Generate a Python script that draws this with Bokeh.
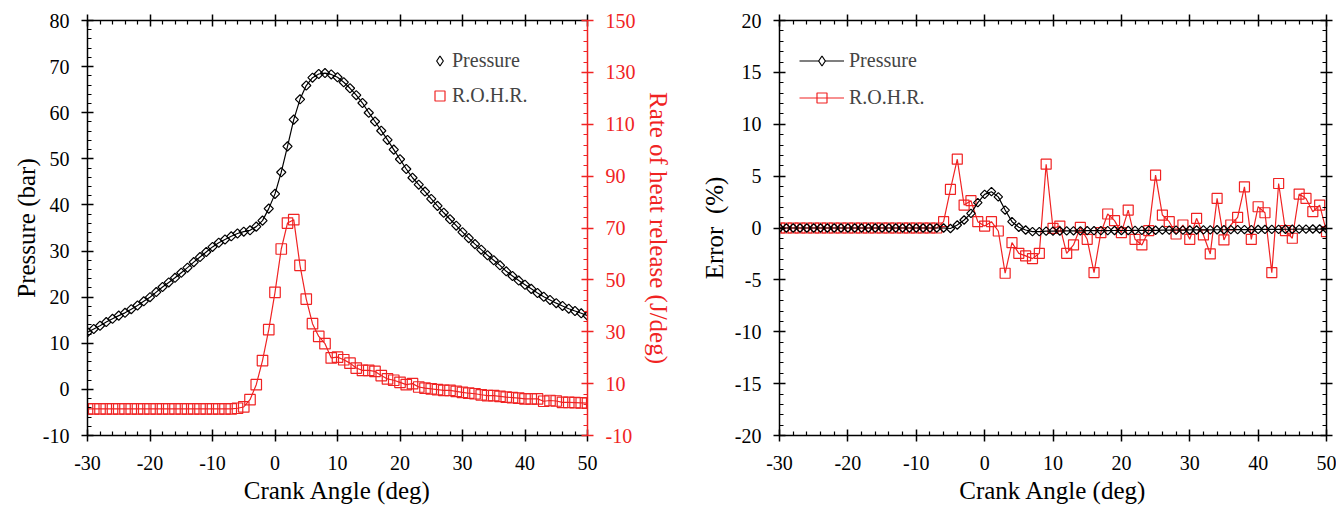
import math
from bokeh.plotting import figure
from bokeh.models import (Range1d, LinearAxis, FixedTicker, Legend, LegendItem,
                          CustomJSTickFormatter)
from bokeh.layouts import row
from bokeh.embed import file_html
from bokeh.resources import INLINE

# ---------------- data ----------------
crank_angle = list(range(-30, 51))

pressure = [
    12.4, 13.1, 13.8, 14.6, 15.3, 16.0, 16.6, 17.4, 18.2, 19.1,   # -30..-21
    20.0, 21.1, 22.2, 23.2, 24.2, 25.3, 26.4, 27.6, 28.7, 29.8,   # -20..-11
    30.9, 31.8, 32.5, 33.2, 33.8, 34.2, 34.5, 35.3, 36.6, 39.2,   # -10..-1
    42.4,                                                         # 0
    47.1, 52.7, 58.5, 62.9, 65.9, 67.6, 68.4, 68.6, 68.3, 67.7,   # 1..10
    66.6, 65.3, 63.8, 62.1, 60.0, 58.1, 56.1, 54.1, 52.0, 49.9,   # 11..20
    47.8, 45.9, 44.4, 42.9, 41.3, 39.8, 38.3, 36.9, 35.5, 34.1,   # 21..30
    32.8, 31.5, 30.3, 29.1, 28.0, 26.9, 25.6, 24.6, 23.6, 22.7,   # 31..40
    21.8, 20.9, 20.1, 19.4, 18.7, 18.1, 17.5, 17.0, 16.5, 16.0,   # 41..50
]

rohr = [0.3] * 24 + [
    0.5, 1.0, 3.8, 9.6, 18.9, 30.8, 45.2,                         # -6..0
    61.9, 71.9, 73.2, 55.6, 42.6, 33.1, 28.2, 25.4, 19.9, 20.2,   # 1..10
    19.2, 17.9, 16.0, 15.1, 15.1, 14.7, 13.1, 11.8, 11.3, 10.5,   # 11..20
    9.6, 10.0, 8.7, 8.3, 8.0, 7.7, 7.4, 7.4, 7.0, 6.6,            # 21..30
    6.3, 6.1, 5.7, 5.4, 5.4, 5.1, 4.8, 4.6, 4.4, 4.1,             # 31..40
    4.1, 4.1, 3.2, 3.5, 3.3, 2.8, 2.8, 2.7, 2.6, 2.5,             # 41..50
]

err_pressure = [0.0] * 24 + [
    0.0, -0.05, 0.29, 0.77, 1.41, 2.44, 3.24,                     # -6..0
    3.5, 3.0, 1.73, 0.61, 0.07, -0.19, -0.35, -0.35, -0.3, -0.3,  # 1..10
    -0.29, -0.28, -0.27, -0.27, -0.26, -0.26, -0.25, -0.25, -0.24, -0.24,
    -0.24, -0.23, -0.23, -0.22, -0.22, -0.21, -0.21, -0.2, -0.2, -0.19,
    -0.19, -0.18, -0.18, -0.17, -0.17, -0.16, -0.16, -0.15, -0.15, -0.14,
    -0.14, -0.13, -0.13, -0.12, -0.12, -0.11, -0.11, -0.1, -0.1, -0.1,
]

err_rohr = [0.0] * 24 + [
    0.61, 3.72, 6.63, 2.21, 2.63, 0.61, 0.19,                     # -6..0
    0.61, -0.29, -4.36, -1.41, -2.44, -2.69, -2.95, -2.44, 6.15, -0.03,
    0.19, -2.44, -1.63, 0.06, -1.09, -4.3, -0.45, 1.35, 0.71, -0.45,
    1.73, -1.09, -1.63, -0.26, 5.1, 1.25, 0.61, -0.58, 0.29, -1.09,
    0.93, -0.67, -2.5, 2.85, -1.15, 0.29, 1.03, 3.97, -1.09, 2.05,
    1.47, -4.3, 4.29, -0.26, -0.99, 3.27, 2.85, 1.57, 2.21, -0.35,
]

x_ticks = [-30, -20, -10, 0, 10, 20, 30, 40, 50]
p_ticks = [-10, 0, 10, 20, 30, 40, 50, 60, 70, 80]
rohr_ticks = [-10, 10, 30, 50, 70, 90, 110, 130, 150]
err_ticks = [-20, -15, -10, -5, 0, 5, 10, 15, 20]

FONT = "Liberation Serif"
RED = "#f02323"


def minor_between(ticks, n):
    out = []
    for a, b in zip(ticks[:-1], ticks[1:]):
        step = (b - a) / n
        out += [a + step * k for k in range(1, n)]
    return out


def style_axis(ax, color="black", labels=True, label_standoff=12, title_standoff=5):
    ax.axis_line_color = color
    ax.axis_line_width = 1.5
    ax.major_tick_line_color = color
    ax.major_tick_line_width = 1.5
    ax.minor_tick_line_color = color
    ax.minor_tick_line_width = 1.2
    ax.major_tick_in = 6
    ax.major_tick_out = 6
    ax.minor_tick_in = 4
    ax.minor_tick_out = 0
    ax.major_label_text_font = FONT
    ax.major_label_text_font_size = "20px"
    ax.major_label_text_color = color
    ax.axis_label_text_font = FONT
    ax.axis_label_text_font_size = "25px"
    ax.axis_label_text_font_style = "normal"
    ax.axis_label_text_color = color
    ax.major_label_standoff = label_standoff
    ax.axis_label_standoff = title_standoff
    if labels:
        # plain ASCII hyphen for negative numbers, as in the original figure
        ax.formatter = CustomJSTickFormatter(code="return tick.toString()")
    else:
        ax.formatter = CustomJSTickFormatter(code="return ''")
        ax.major_label_standoff = 0


def x_ticker():
    return FixedTicker(ticks=x_ticks, minor_ticks=minor_between(x_ticks, 5))


def style_legend(leg, glyph_w, glyph_h, spacing, standoff):
    leg.label_text_font = FONT
    leg.label_text_font_size = "20px"
    leg.glyph_width = glyph_w
    leg.glyph_height = glyph_h
    leg.label_height = glyph_h
    leg.label_standoff = standoff
    leg.spacing = spacing
    leg.padding = 0
    leg.margin = 0
    leg.border_line_color = None
    leg.background_fill_alpha = 0
    leg.inactive_fill_alpha = 0


TOP = 20
BOTTOM = 74
H = 509

# ---------------- left panel ----------------
p1 = figure(width=674, height=H, x_range=Range1d(-30, 50), y_range=Range1d(-10, 80),
            output_backend="svg", toolbar_location=None,
            min_border_left=87, min_border_right=87, min_border_top=TOP, min_border_bottom=BOTTOM,
            x_axis_label="Crank Angle (deg)", y_axis_label="Pressure (bar)")
p1.extra_y_ranges = {"rohr": Range1d(-10, 150)}
p1.grid.visible = False
p1.outline_line_color = None
p1.background_fill_color = "white"

p1.xaxis[0].ticker = x_ticker()
style_axis(p1.xaxis[0], label_standoff=14, title_standoff=4)
p1.yaxis[0].ticker = FixedTicker(ticks=p_ticks, minor_ticks=minor_between(p_ticks, 5))
style_axis(p1.yaxis[0], label_standoff=12, title_standoff=0)

top1 = LinearAxis(ticker=x_ticker())
style_axis(top1, labels=False)
p1.add_layout(top1, "above")

right1 = LinearAxis(y_range_name="rohr", axis_label="Rate of heat release (J/deg)",
                    ticker=FixedTicker(ticks=rohr_ticks, minor_ticks=minor_between(rohr_ticks, 5)))
style_axis(right1, color=RED, label_standoff=12, title_standoff=6)
p1.add_layout(right1, "right")

p1.line(crank_angle, rohr, color=RED, line_width=1.2, y_range_name="rohr")
rs1 = p1.scatter(crank_angle, rohr, marker="square", size=10.5, line_color=RED,
                 fill_color=None, line_width=1.2, y_range_name="rohr")
p1.line(crank_angle, pressure, color="black", line_width=1.2)
p1.scatter(crank_angle, pressure, marker="square", angle=math.pi / 4, size=6.5,
           line_color="black", fill_color=None, line_width=1.2)
# hidden copy used only for the legend key (diamond symbol)
pkey1 = p1.scatter(crank_angle, pressure, marker="diamond", line_color="black",
                   fill_color=None, line_width=1.2, visible=False)

leg1 = Legend(items=[LegendItem(label="Pressure", renderers=[pkey1]),
                     LegendItem(label="R.O.H.R.", renderers=[rs1])],
              location=(340, 327))
style_legend(leg1, 25, 25, 10, 0)
p1.add_layout(leg1)

# ---------------- right panel ----------------
p2 = figure(width=662, height=H, x_range=Range1d(-30, 50), y_range=Range1d(-20, 20),
            output_backend="svg", toolbar_location=None,
            min_border_left=105, min_border_right=10, min_border_top=TOP, min_border_bottom=BOTTOM,
            x_axis_label="Crank Angle (deg)", y_axis_label="Error \u00a0(%)")
p2.grid.visible = False
p2.outline_line_color = None
p2.background_fill_color = "white"

p2.xaxis[0].ticker = x_ticker()
style_axis(p2.xaxis[0], label_standoff=14, title_standoff=4)
p2.yaxis[0].ticker = FixedTicker(ticks=err_ticks, minor_ticks=minor_between(err_ticks, 5))
style_axis(p2.yaxis[0], label_standoff=12, title_standoff=4)

top2 = LinearAxis(ticker=x_ticker())
style_axis(top2, labels=False)
p2.add_layout(top2, "above")
right2 = LinearAxis(ticker=FixedTicker(ticks=err_ticks, minor_ticks=minor_between(err_ticks, 5)))
style_axis(right2, labels=False)
p2.add_layout(right2, "right")

rl2 = p2.line(crank_angle, err_rohr, color=RED, line_width=1.2)
rs2 = p2.scatter(crank_angle, err_rohr, marker="square", size=10, line_color=RED,
                 fill_color=None, line_width=1.2)
pl2 = p2.line(crank_angle, err_pressure, color="black", line_width=1.2)
p2.scatter(crank_angle, err_pressure, marker="square", angle=math.pi / 4, size=6,
           line_color="black", fill_color=None, line_width=1.2)
pkey2 = p2.scatter(crank_angle, err_pressure, marker="diamond", line_color="black",
                   fill_color="white", line_width=1.2, visible=False)

leg2 = Legend(items=[LegendItem(label="Pressure", renderers=[pl2, pkey2]),
                     LegendItem(label="R.O.H.R.", renderers=[rl2, rs2])],
              location=(20, 325))
style_legend(leg2, 45, 25, 12, 5)
p2.add_layout(leg2)

layout = row(p1, p2)
open("out.html", "w").write(file_html(layout, INLINE))
